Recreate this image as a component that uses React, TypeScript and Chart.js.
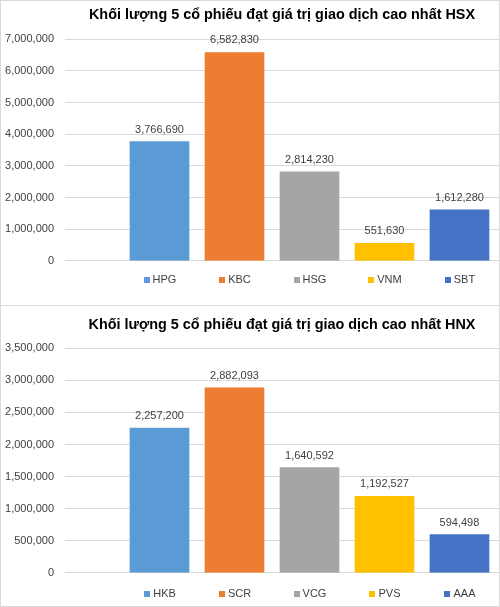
import React, { useEffect, useRef } from 'react';
import { Chart, registerables } from 'chart.js';

Chart.register(...registerables);

const FONT = "'Liberation Sans', Arial, sans-serif";

const hsxTitle = 'Khối lượng 5 cổ phiếu đạt giá trị giao dịch cao nhất HSX';
const hsxCategories = ['HPG', 'KBC', 'HSG', 'VNM', 'SBT'];
const hsxValues = [3766690, 6582830, 2814230, 551630, 1612280];
const hsxYMax = 7000000;
const hsxYStep = 1000000;

const hnxTitle = 'Khối lượng 5 cổ phiếu đạt giá trị giao dịch cao nhất HNX';
const hnxCategories = ['HKB', 'SCR', 'VCG', 'PVS', 'AAA'];
const hnxValues = [2257200, 2882093, 1640592, 1192527, 594498];
const hnxYMax = 3500000;
const hnxYStep = 500000;

const barColors = ['#5B9BD5', '#ED7D31', '#A5A5A5', '#FFC000', '#4472C4'];

const fmt = (v: number) => Math.round(v).toLocaleString('en-US');

const LABEL_OFFSET = 5;
const TICK_FONT_SIZE = 11;

type PanelProps = {
  title: string;
  categories: string[];
  values: number[];
  yMax: number;
  yStep: number;
  height: number;
  titleTop: number;
  titleBottom: number;
  tickPad: number;
  bottomPad: number;
};

function BarPanel(props: PanelProps) {
  const ref = useRef<HTMLCanvasElement>(null);
  useEffect(() => {
    const { title, categories, values, yMax, yStep, titleTop, titleBottom, tickPad, bottomPad } = props;
    const valueLabels = {
      id: 'valueLabels',
      afterDatasetsDraw(chart: any) {
        const ctx = chart.ctx;
        const meta = chart.getDatasetMeta(0);
        ctx.save();
        ctx.font = `${TICK_FONT_SIZE}px ${FONT}`;
        ctx.fillStyle = '#404040';
        ctx.textAlign = 'center';
        ctx.textBaseline = 'alphabetic';
        meta.data.forEach((el: any, i: number) => {
          ctx.fillText(fmt(values[i]), el.x, el.y - 9);
        });
        ctx.restore();
      },
    };
    const legendSquares = {
      id: 'legendSquares',
      afterDraw(chart: any) {
        const sc = chart.scales.x;
        const ctx = chart.ctx;
        ctx.save();
        ctx.font = `${TICK_FONT_SIZE}px ${FONT}`;
        const yMid = sc.top + tickPad + (TICK_FONT_SIZE * 1.2) / 2;
        categories.forEach((c, i) => {
          const cx = sc.getPixelForValue(i + 1) + LABEL_OFFSET;
          const w = ctx.measureText(c).width;
          ctx.fillStyle = barColors[i];
          ctx.fillRect(Math.round(cx - w / 2 - 9), Math.round(yMid - 3), 6, 6);
        });
        ctx.restore();
      },
    };

    const chart = new Chart(ref.current as HTMLCanvasElement, {
      type: 'bar',
      data: {
        datasets: [
          {
            label: title,
            data: values.map((v, i) => ({ x: i + 1, y: v })),
            backgroundColor: barColors,
            borderWidth: 0,
            barThickness: 59,
          } as any,
        ],
      },
      options: {
        responsive: false,
        animation: false,
        layout: { padding: { left: 0, right: 0, top: 0, bottom: bottomPad } },
        plugins: {
          legend: { display: false },
          tooltip: { enabled: false },
          title: {
            display: true,
            text: title,
            fullSize: false,
            color: '#000000',
            font: { family: FONT, size: 14.4, weight: 'bold' },
            padding: { top: titleTop, bottom: titleBottom },
          },
        },
        scales: {
          x: {
            type: 'linear',
            min: -0.26,
            max: 5.527,
            offset: false,
            grid: { display: false, drawTicks: false },
            border: { display: false },
            afterBuildTicks: (scale: any) => {
              scale.ticks = categories.map((_, i) => ({ value: i + 1 }));
            },
            afterFit: (scale: any) => {
              scale.height = tickPad + TICK_FONT_SIZE * 1.2;
            },
            ticks: {
              autoSkip: false,
              maxRotation: 0,
              padding: tickPad,
              labelOffset: LABEL_OFFSET,
              color: '#404040',
              font: { family: FONT, size: TICK_FONT_SIZE },
              callback: (value: any) => categories[Math.round(Number(value)) - 1] ?? '',
            },
          },
          y: {
            min: 0,
            max: yMax,
            grid: { color: '#d9d9d9', drawTicks: false },
            border: { display: false },
            afterFit: (scale: any) => {
              scale.width = 64;
            },
            ticks: {
              stepSize: yStep,
              padding: 11,
              color: '#404040',
              font: { family: FONT, size: TICK_FONT_SIZE },
              callback: (value: any) => fmt(Number(value)),
            },
          },
        },
      } as any,
      plugins: [valueLabels, legendSquares],
    });
    return () => chart.destroy();
  }, []);
  return <canvas ref={ref} width={498} height={props.height} style={{ display: 'block' }} />;
}

export default function App() {
  return (
    <div style={{ position: 'absolute', left: 0, top: 0, width: 500, height: 607, background: '#ffffff' }}>
      <div
        style={{
          position: 'absolute',
          left: 0,
          top: 0,
          width: 500,
          height: 306,
          boxSizing: 'border-box',
          border: '1px solid #d9d9d9',
        }}
      >
        <BarPanel
          title={hsxTitle}
          categories={hsxCategories}
          values={hsxValues}
          yMax={hsxYMax}
          yStep={hsxYStep}
          height={304}
          titleTop={5}
          titleBottom={16}
          tickPad={13}
          bottomPad={18}
        />
      </div>
      <div
        style={{
          position: 'absolute',
          left: 0,
          top: 306,
          width: 500,
          height: 301,
          boxSizing: 'border-box',
          borderLeft: '1px solid #d9d9d9',
          borderRight: '1px solid #d9d9d9',
          borderBottom: '1px solid #d9d9d9',
        }}
      >
        <BarPanel
          title={hnxTitle}
          categories={hnxCategories}
          values={hnxValues}
          yMax={hnxYMax}
          yStep={hnxYStep}
          height={300}
          titleTop={10}
          titleBottom={15}
          tickPad={15}
          bottomPad={5}
        />
      </div>
    </div>
  );
}
